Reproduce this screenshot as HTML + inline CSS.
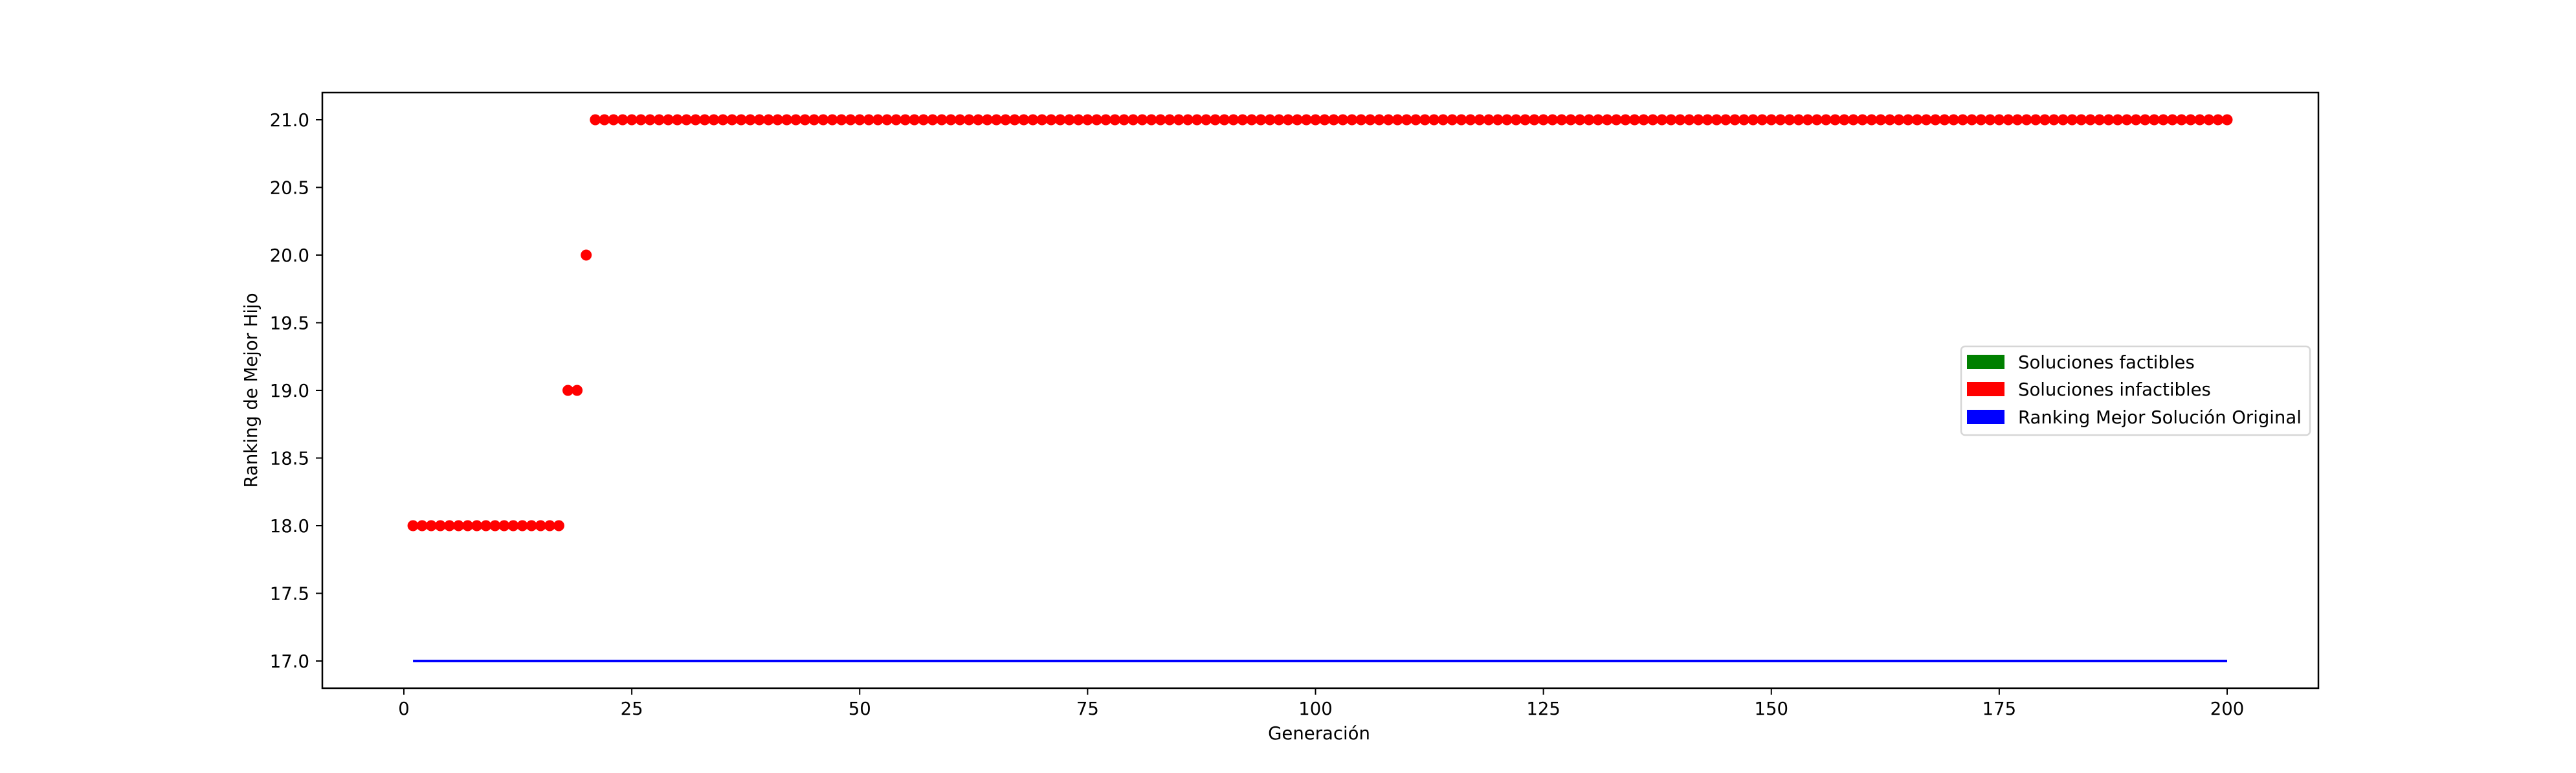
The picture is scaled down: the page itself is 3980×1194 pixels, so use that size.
<!DOCTYPE html>
<html><head><meta charset="utf-8"><style>
html,body{margin:0;padding:0;background:#fff;}
svg{display:block;font-family:"DejaVu Sans","Liberation Sans",sans-serif;}
</style></head><body>
<svg id="chart" width="3980" height="1194" viewBox="0 0 3980 1194">
<rect x="0" y="0" width="3980" height="1194" fill="#fff"/>
<g id="plot"></g>
<rect x="498" y="143" width="3084" height="920" fill="none" stroke="#000" stroke-width="2.5"/>
<g id="xt"></g>
<g id="yt"></g>
<text x="2038" y="1142" font-size="27.5" text-anchor="middle">Generación</text>
<text transform="translate(397,603) rotate(-90)" font-size="27.5" text-anchor="middle">Ranking de Mejor Hijo</text>
<g>
<rect x="3030" y="535" width="539" height="137" rx="6" fill="#fff" stroke="#d6d6d6" stroke-width="2.5"/>
<g>
<rect x="3039" y="548" width="58" height="22" fill="#008000"/>
<text x="3118" y="569" font-size="27.5">Soluciones factibles</text></g>
<g>
<rect x="3039" y="590" width="58" height="22" fill="#ff0000"/>
<text x="3118" y="611" font-size="27.5">Soluciones infactibles</text></g>
<g>
<rect x="3039" y="633" width="58" height="22" fill="#0000ff"/>
<text x="3118" y="654" font-size="27.5">Ranking Mejor Solución Original</text></g>
</g>
</svg>
<script>
const generations = [];
for (let g = 1; g <= 200; g++) generations.push(g);
const infeasibleRanks = [18,18,18,18,18,18,18,18,18,18,18,18,18,18,18,18,18,19,19,20].concat(new Array(180).fill(21));
const originalRank = 17;
const xTicks = [0,25,50,75,100,125,150,175,200];
const yTicks = [17.0,17.5,18.0,18.5,19.0,19.5,20.0,20.5,21.0];

const NS = "http://www.w3.org/2000/svg";
function xs(v){ return 624 + (v - 0) * 14.085; }
function ys(v){ return 1021 - (v - 17) * 209; }
function mk(tag, attrs){ const e = document.createElementNS(NS, tag); for (const k in attrs) e.setAttribute(k, attrs[k]); return e; }

const plot = document.getElementById('plot');
const line = mk('line', {x1: xs(generations[0]), x2: xs(generations[generations.length-1]), y1: ys(originalRank), y2: ys(originalRank), stroke: '#0000ff', 'stroke-width': 4});


plot.appendChild(line);
generations.forEach((g, i) => {
  const c = mk('circle', {cx: xs(g), cy: ys(infeasibleRanks[i]), r: 8.5, fill: '#ff0000'});
  
  
  plot.appendChild(c);
});

const xt = document.getElementById('xt');
xTicks.forEach(t => {
  const l = mk('line', {x1: xs(t), x2: xs(t), y1: 1063, y2: 1073, stroke: '#000', 'stroke-width': 2});
  
  
  xt.appendChild(l);
  const tx = mk('text', {x: xs(t), y: 1104, 'font-size': 27.5, 'text-anchor': 'middle'});
  tx.textContent = String(t);
  
  
  xt.appendChild(tx);
});
const yt = document.getElementById('yt');
yTicks.forEach(t => {
  const l = mk('line', {x1: 488, x2: 498, y1: ys(t), y2: ys(t), stroke: '#000', 'stroke-width': 2});
  
  
  yt.appendChild(l);
  const tx = mk('text', {x: 478, y: ys(t) + 10, 'font-size': 27.5, 'text-anchor': 'end'});
  tx.textContent = t.toFixed(1);
  
  
  yt.appendChild(tx);
});
</script>
</body></html>
